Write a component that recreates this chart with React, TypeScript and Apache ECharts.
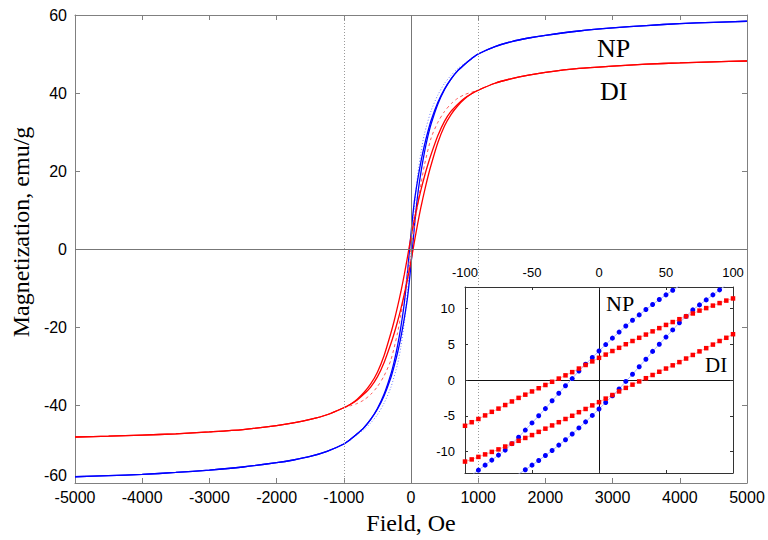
import React, { useEffect, useRef } from "react";
import * as echarts from "echarts";

// ---- Main loop (field in Oe, magnetization in emu/g) ----
const fieldMain = [-5000, -4500, -4000, -3500, -3000, -2500, -2000, -1750, -1500, -1250,
  -1000, -900, -800, -700, -600, -500, -400, -300, -250, -200,
  -150, -100, -50, 0, 50, 100, 150, 200, 250, 300,
  400, 500, 600, 700, 800, 900, 1000, 1250, 1500, 1750,
  2000, 2500, 3000, 3500, 4000, 4500, 5000];

const npDescending = [-58.4, -58.1, -57.8, -57.3, -56.7, -55.9, -54.8, -54.1, -53.2, -51.9,
  -50.0, -48.8, -47.4, -45.8, -43.7, -40.9, -37.2, -32.1, -28.8, -24.8,
  -19.9, -13.9, -5.6, 4.0, 12.2, 17.8, 22.6, 26.6, 30.0, 33.0,
  37.6, 41.1, 43.7, 45.8, 47.4, 48.8, 50.0, 51.9, 53.2, 54.1,
  54.8, 55.9, 56.7, 57.3, 57.8, 58.1, 58.4];

const npAscending = [-58.4, -58.1, -57.8, -57.3, -56.7, -55.9, -54.8, -54.1, -53.2, -51.9,
  -50.0, -48.8, -47.4, -45.8, -43.7, -41.1, -37.6, -33.0, -30.0, -26.6,
  -22.6, -17.8, -12.2, -4.0, 5.6, 13.9, 19.9, 24.8, 28.8, 32.1,
  37.2, 40.9, 43.7, 45.8, 47.4, 48.8, 50.0, 51.9, 53.2, 54.1,
  54.8, 55.9, 56.7, 57.3, 57.8, 58.1, 58.4];

const diDescending = [-48.2, -48.0, -47.7, -47.4, -46.9, -46.3, -45.3, -44.6, -43.7, -42.5,
  -40.7, -39.8, -38.5, -36.8, -34.6, -31.6, -27.3, -21.6, -18.4, -14.8,
  -10.9, -6.6, -1.8, 3.1, 7.6, 11.6, 15.3, 18.6, 21.6, 24.3,
  29.1, 32.8, 35.4, 37.2, 38.7, 39.8, 40.7, 42.5, 43.7, 44.6,
  45.3, 46.3, 46.9, 47.4, 47.7, 48.0, 48.2];

const diAscending = [-48.2, -48.0, -47.7, -47.4, -46.9, -46.3, -45.3, -44.6, -43.7, -42.5,
  -40.7, -39.8, -38.7, -37.2, -35.4, -32.8, -29.1, -24.3, -21.6, -18.6,
  -15.3, -11.6, -7.6, -3.1, 1.8, 6.6, 10.9, 14.8, 18.4, 21.6,
  27.3, 31.6, 34.6, 36.8, 38.5, 39.8, 40.7, 42.5, 43.7, 44.6,
  45.3, 46.3, 46.9, 47.4, 47.7, 48.0, 48.2];

// ---- Fitted (dashed / dotted) curves ----
const fieldFit = [-1000, -900, -800, -700, -600, -500, -400, -300, -200, -150, -100, -50, 0,
  50, 100, 150, 200, 300, 400, 500, 600, 700, 800, 900, 1000];
const diFit = [-40.7, -40.2, -39.6, -38.7, -37.3, -35.3, -32.5, -28.5, -21.5, -16.8, -11.5, -6.0, 0,
  6.0, 11.5, 16.8, 21.5, 28.5, 32.5, 35.3, 37.3, 38.7, 39.6, 40.2, 40.7];
const npFit = [-49.9, -48.8, -47.6, -46.3, -44.6, -42.5, -39.5, -35.5, -29.5, -25.0, -19.0, -10.5, 0,
  10.5, 19.0, 25.0, 29.5, 35.5, 39.5, 42.5, 44.6, 46.3, 47.6, 48.8, 49.9];

// ---- Inset (low-field detail) ----
const fieldInset = [-100, -95, -90, -85, -80, -75, -70, -65, -60, -55, -50, -45, -40, -35, -30, -25, -20,
  -15, -10, -5, 0, 5, 10, 15, 20, 25, 30, 35, 40, 45, 50, 55, 60, 65, 70, 75, 80, 85, 90, 95, 100];
const npUpperInset = [-14.0, -13.3, -12.6, -11.9, -11.2, -10.5, -9.8, -8.9, -8.0, -7.0, -6.0, -5.0, -4.0,
  -2.9, -1.85, -0.8, 0.2, 1.25, 2.2, 3.15, 4.05, 4.95, 5.85, 6.7, 7.55, 8.35, 9.1, 9.85, 10.55, 11.25,
  11.9, 12.55, 13.15, 13.7, 14.3, 14.85, 15.4, 15.9, 16.4, 16.9, 17.4];
const npLowerInset = [-17.4, -16.9, -16.4, -15.9, -15.4, -14.85, -14.3, -13.7, -13.15, -12.55, -11.9,
  -11.25, -10.55, -9.85, -9.1, -8.35, -7.55, -6.7, -5.85, -4.95, -4.05, -3.15, -2.2, -1.25, -0.2, 0.8,
  1.85, 2.9, 4.0, 5.0, 6.0, 7.0, 8.0, 8.9, 9.8, 10.5, 11.2, 11.9, 12.6, 13.3, 14.0];
const diUpperInset = [-6.4, -5.9, -5.45, -4.95, -4.45, -4.0, -3.5, -3.0, -2.5, -2.05, -1.6, -1.15, -0.7,
  -0.25, 0.2, 0.65, 1.1, 1.6, 2.1, 2.6, 3.1, 3.55, 4.05, 4.5, 5.0, 5.45, 5.9, 6.35, 6.8, 7.25, 7.7, 8.1,
  8.5, 8.9, 9.3, 9.7, 10.05, 10.4, 10.75, 11.1, 11.4];
const diLowerInset = [-11.4, -11.1, -10.75, -10.4, -10.05, -9.7, -9.3, -8.9, -8.5, -8.1, -7.7, -7.25,
  -6.8, -6.35, -5.9, -5.45, -5.0, -4.5, -4.05, -3.55, -3.1, -2.6, -2.1, -1.6, -1.1, -0.65, -0.2, 0.25,
  0.7, 1.15, 1.6, 2.05, 2.5, 3.0, 3.5, 4.0, 4.45, 4.95, 5.45, 5.9, 6.4];
const insetYTicks = [-10, -5, 0, 5, 10];

const SANS = '"Liberation Sans", Arial, sans-serif';
const SERIF = '"Liberation Serif", "Times New Roman", serif';
const BLUE = "#0000ff";
const RED = "#ff0000";

const pairs = (xs: number[], ys: number[]) => xs.map((x, i) => [x, ys[i]]);
const plain = (v: number) => String(v);

export default function App() {
  const ref = useRef<HTMLDivElement>(null);
  useEffect(() => {
    document.body.style.margin = "0";
    const chart = echarts.init(ref.current!, null, { renderer: "svg" });
    const frameGray = "#808080";
    const mainAxisCommon = {
      type: "value",
      gridIndex: 0,
      axisLine: { show: true, onZero: false, lineStyle: { color: frameGray, width: 1 } },
      axisTick: { show: true, inside: true, length: 5, lineStyle: { color: frameGray } },
      splitLine: { show: false },
    };
    const insetAxisCommon = {
      type: "value",
      gridIndex: 1,
      z: 6,
      axisLine: { show: true, onZero: false, lineStyle: { color: "#333", width: 1 } },
      axisTick: { show: true, inside: true, length: 3, lineStyle: { color: "#333" } },
      splitLine: { show: false },
    };
    const mainLine = (data: number[][], color: string, extra: any = {}) => ({
      type: "line",
      xAxisIndex: 0,
      yAxisIndex: 0,
      data,
      showSymbol: false,
      symbol: "none",
      smooth: 0.25,
      lineStyle: { color, width: 1.3 },
      z: 2,
      ...extra,
    });
    const insetLine = (data: number[][], color: string, lineColor: string, symbol: string, size: number, extra: any = {}) => ({
      type: "line",
      xAxisIndex: 2,
      yAxisIndex: 2,
      data,
      symbol,
      symbolSize: size,
      showAllSymbol: true,
      clip: true,
      itemStyle: { color },
      lineStyle: { color: lineColor, width: 1 },
      z: 7,
      ...extra,
    });
    const textStyle = (text: string, size: number, align: string) => ({
      text,
      font: `${size}px ${SERIF}`,
      fill: "#000",
      textAlign: align,
      textVerticalAlign: "middle",
      align,
      verticalAlign: "middle",
    });

    chart.setOption({
      animation: false,
      backgroundColor: "#ffffff",
      grid: [
        { left: 75, top: 15, width: 672, height: 468 },
        { left: 465, top: 287, width: 268, height: 186 },
      ],
      xAxis: [
        {
          ...mainAxisCommon,
          position: "bottom",
          min: -5000,
          max: 5000,
          interval: 1000,
          axisLabel: { color: "#000", fontSize: 16, fontFamily: SANS, margin: 6, formatter: plain },
        },
        {
          ...mainAxisCommon,
          position: "top",
          min: -5000,
          max: 5000,
          interval: 1000,
          axisLabel: { show: false },
        },
        {
          ...insetAxisCommon,
          position: "top",
          min: -100,
          max: 100,
          interval: 50,
          axisLabel: { color: "#000", fontSize: 13, fontFamily: SANS, margin: 8, formatter: plain },
        },
        {
          ...insetAxisCommon,
          position: "bottom",
          min: -100,
          max: 100,
          interval: 50,
          axisLabel: { show: false },
        },
      ],
      yAxis: [
        {
          ...mainAxisCommon,
          position: "left",
          min: -60,
          max: 60,
          interval: 20,
          axisLabel: {
            color: "#000",
            fontSize: 16,
            fontFamily: SANS,
            margin: 8,
            formatter: (v: number) => (v === -60 ? "{low|-60}" : String(v)),
            rich: { low: { fontSize: 16, fontFamily: SANS, color: "#000", padding: [0, 0, 16, 0] } },
          },
        },
        {
          ...mainAxisCommon,
          position: "right",
          min: -60,
          max: 60,
          interval: 20,
          axisLabel: { show: false },
        },
        {
          ...insetAxisCommon,
          position: "left",
          min: -13,
          max: 13,
          axisTick: { show: true, inside: true, length: 3, lineStyle: { color: "#333" }, customValues: insetYTicks },
          axisLabel: { color: "#000", fontSize: 13, fontFamily: SANS, margin: 10, customValues: insetYTicks, formatter: plain },
        },
        {
          ...insetAxisCommon,
          position: "right",
          min: -13,
          max: 13,
          axisTick: { show: true, inside: true, length: 3, lineStyle: { color: "#333" }, customValues: insetYTicks },
          axisLabel: { show: false },
        },
      ],
      graphic: {
        elements: [
          {
            type: "rect",
            silent: true,
            z: 5,
            shape: { x: 442, y: 257, width: 299, height: 220 },
            style: { fill: "#ffffff" },
          },
          { type: "text", z: 10, x: 411, y: 523, style: textStyle("Field, Oe", 24, "center") },
          { type: "text", z: 10, x: 21, y: 232, rotation: Math.PI / 2, style: textStyle("Magnetization, emu/g", 24, "center") },
          { type: "text", z: 10, x: 597, y: 48, style: textStyle("NP", 26, "left") },
          { type: "text", z: 10, x: 600, y: 91, style: textStyle("DI", 26, "left") },
          { type: "text", z: 10, x: 606, y: 303, style: textStyle("NP", 22, "left") },
          { type: "text", z: 10, x: 705, y: 365, style: textStyle("DI", 21, "left") },
        ],
      },
      series: [
        mainLine(pairs(fieldFit, npFit), "#6a7dff", { lineStyle: { color: "#6a7dff", width: 1, type: [1, 2] } }),
        mainLine(pairs(fieldMain, npDescending), BLUE, {
          markLine: {
            silent: true,
            symbol: "none",
            label: { show: false },
            lineStyle: { color: "#777", width: 1, type: "solid" },
            data: [
              { xAxis: 0 },
              { yAxis: 0 },
              { xAxis: -1000, lineStyle: { color: "#999", width: 1, type: [1, 2] } },
              { xAxis: 1000, lineStyle: { color: "#999", width: 1, type: [1, 2] } },
            ],
          },
        }),
        mainLine(pairs(fieldMain, npAscending), BLUE),
        mainLine(pairs(fieldFit, diFit), "#ff5a5a", { lineStyle: { color: "#ff5a5a", width: 1, type: [3, 3] } }),
        mainLine(pairs(fieldMain, diDescending), RED),
        mainLine(pairs(fieldMain, diAscending), RED),

        insetLine(pairs(fieldInset, npUpperInset), BLUE, "#aab4ff", "circle", 5, {
          markLine: {
            silent: true,
            symbol: "none",
            label: { show: false },
            z: 6,
            lineStyle: { color: "#111", width: 1, type: "solid" },
            data: [{ xAxis: 0 }, { yAxis: 0 }],
          },
        }),
        insetLine(pairs(fieldInset, npLowerInset), BLUE, "#aab4ff", "circle", 5),
        insetLine(pairs(fieldInset, diUpperInset), RED, "#ffb0b0", "rect", 4.5),
        insetLine(pairs(fieldInset, diLowerInset), RED, "#ffb0b0", "rect", 4.5),
      ],
    });
    return () => chart.dispose();
  }, []);
  return (
    <div
      ref={ref}
      style={{ position: "absolute", left: 0, top: 0, width: 768, height: 540, background: "#fff" }}
    />
  );
}
